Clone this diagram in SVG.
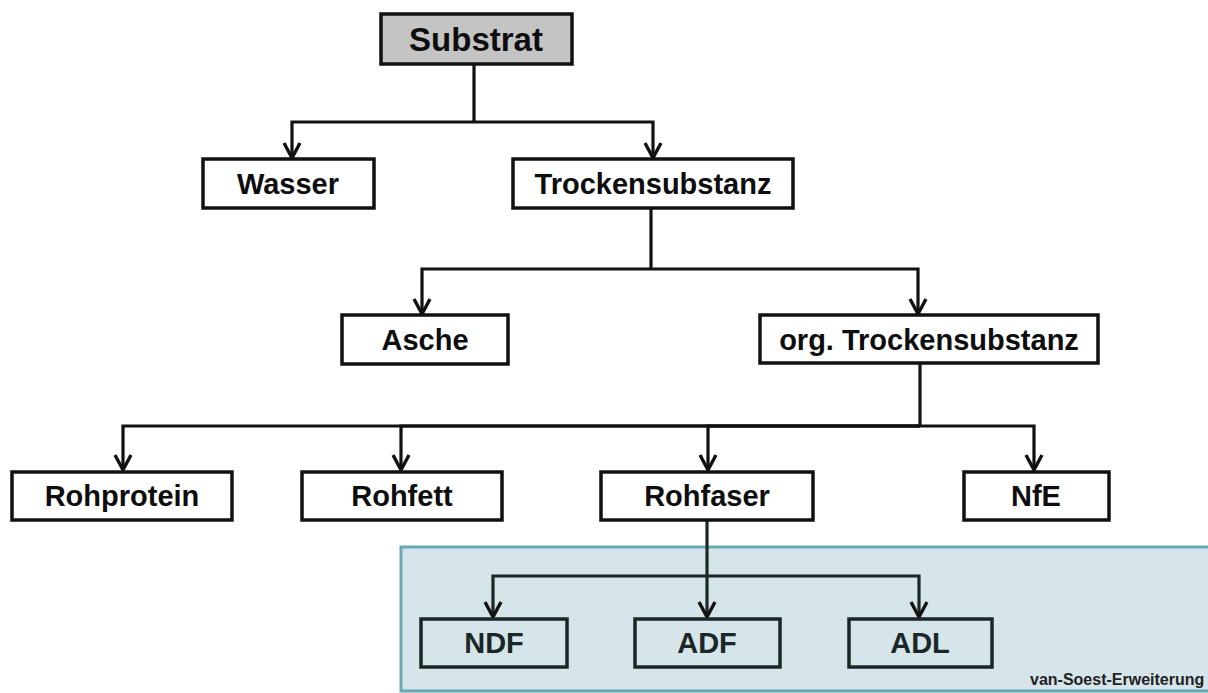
<svg xmlns="http://www.w3.org/2000/svg" width="1208" height="693" viewBox="0 0 1208 693">
  <style>
    .box { fill: #ffffff; stroke: #111111; stroke-width: 3.5; }
    .box.root { fill: #c4c4c4; }
    .box.sub { fill: #d6e5ea; stroke: #1b2727; }
    .lbl { font-family: "Liberation Sans", Arial, sans-serif; font-weight: bold; font-size: 29px; fill: #0d0d0d; text-anchor: middle; }
    .lbl.root { font-size: 33px; }
    .lbl.sub { fill: #1b2727; }
    .link { fill: none; stroke: #111111; stroke-width: 3.2; stroke-linejoin: miter; marker-end: url(#arr); }
    .trunk { fill: none; stroke: #111111; stroke-width: 3.2; }
    .link.sub, .trunk.sub { stroke: #1b2727; }
    .note { font-family: "Liberation Sans", Arial, sans-serif; font-weight: bold; font-size: 16px; fill: #222222; }
  </style>
  <defs>
    <marker id="arr" markerUnits="userSpaceOnUse" markerWidth="22" markerHeight="22" viewBox="-18 -11 22 22" refX="0" refY="0" orient="auto" overflow="visible">
      <path d="M-15,-8 L0,0 L-15,8" fill="none" stroke="#111111" stroke-width="3.4" stroke-linejoin="miter"/>
    </marker>
  </defs>

  <rect width="1208" height="693" fill="#ffffff"/>

  <!-- van Soest extension area -->
  <g id="van-soest">
    <rect x="401" y="547" width="822" height="144" fill="#d6e5ea" stroke="#66a8b4" stroke-width="3"/>
    <text class="note" x="1030" y="685">van-Soest-Erweiterung</text>
  </g>

  <!-- connectors -->
  <g id="connectors">
    <path class="trunk" d="M474,64 V122"/>
    <path class="link" d="M474,122 H292 V158"/>
    <path class="link" d="M474,122 H653 V158"/>

    <path class="trunk" d="M651,208 V269"/>
    <path class="link" d="M651,269 H422 V314"/>
    <path class="link" d="M651,269 H918 V314"/>

    <path class="trunk" d="M920,363 V426"/>
    <path class="link" d="M920,426 H123 V470"/>
    <path class="link" d="M920,426 H401 V470"/>
    <path class="link" d="M920,426 H708 V470"/>
    <path class="link" d="M920,426 H1034 V470"/>

    <path class="link sub" d="M707,520 V617"/>
    <path class="link sub" d="M707,576 H493 V617"/>
    <path class="link sub" d="M707,576 H919 V617"/>
  </g>

  <!-- nodes -->
  <g id="substrat">
    <rect class="box root" x="381" y="14" width="191" height="50"/>
    <text class="lbl root" x="476" y="51">Substrat</text>
  </g>
  <g id="wasser">
    <rect class="box" x="203" y="159" width="171" height="49"/>
    <text class="lbl" x="288" y="194">Wasser</text>
  </g>
  <g id="trockensubstanz">
    <rect class="box" x="513" y="159" width="280" height="49"/>
    <text class="lbl" x="653" y="194">Trockensubstanz</text>
  </g>
  <g id="asche">
    <rect class="box" x="342" y="315" width="166" height="49"/>
    <text class="lbl" x="425" y="350">Asche</text>
  </g>
  <g id="org-trockensubstanz">
    <rect class="box" x="760" y="315" width="338" height="48"/>
    <text class="lbl" x="929" y="350">org. Trockensubstanz</text>
  </g>
  <g id="rohprotein">
    <rect class="box" x="12" y="472" width="220" height="48"/>
    <text class="lbl" x="122" y="506">Rohprotein</text>
  </g>
  <g id="rohfett">
    <rect class="box" x="302" y="472" width="200" height="48"/>
    <text class="lbl" x="402" y="506">Rohfett</text>
  </g>
  <g id="rohfaser">
    <rect class="box" x="601" y="472" width="212" height="48"/>
    <text class="lbl" x="707" y="506">Rohfaser</text>
  </g>
  <g id="nfe">
    <rect class="box" x="964" y="472" width="145" height="48"/>
    <text class="lbl" x="1036" y="506">NfE</text>
  </g>
  <g id="ndf">
    <rect class="box sub" x="421" y="619" width="146" height="48"/>
    <text class="lbl sub" x="494" y="653">NDF</text>
  </g>
  <g id="adf">
    <rect class="box sub" x="635" y="619" width="145" height="48"/>
    <text class="lbl sub" x="707" y="653">ADF</text>
  </g>
  <g id="adl">
    <rect class="box sub" x="849" y="619" width="143" height="48"/>
    <text class="lbl sub" x="920" y="653">ADL</text>
  </g>
</svg>
